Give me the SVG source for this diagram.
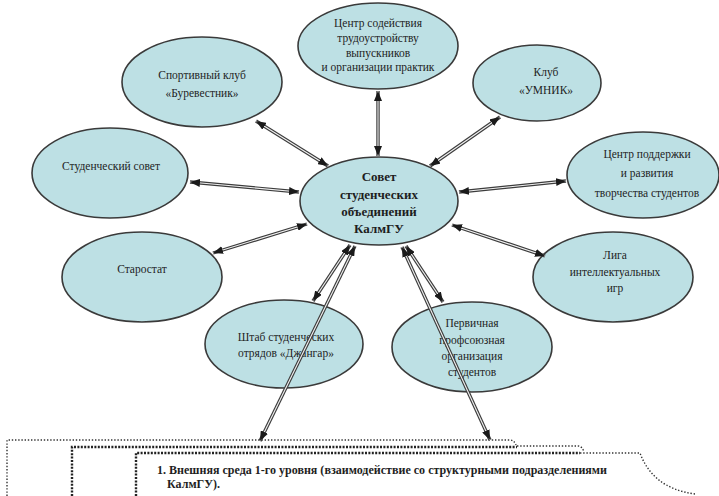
<svg xmlns="http://www.w3.org/2000/svg" xmlns:xlink="http://www.w3.org/1999/xlink" width="719" height="496" viewBox="0 0 719 496" font-family="Liberation Serif, DejaVu Serif, serif">
<style>
.node ellipse{fill:#bde0e4;stroke:#3a3a3a;stroke-width:1.6}
.t{font-size:11.5px;fill:#1e1e1e;text-anchor:middle}
.b{font-size:13px;font-weight:bold;fill:#1e1e1e;text-anchor:middle}
.bt{font-size:12px;font-weight:bold;fill:#1e1e1e}
.o{fill:none;stroke:#3c3c3c;stroke-width:3.4}
.i{fill:none;stroke:#f2f2f2;stroke-width:1.1}
.m{fill:none;stroke:none;marker-start:url(#ah);marker-end:url(#ah)}
.fine{fill:none;stroke:#333;stroke-width:1.4;stroke-dasharray:1.4 1.8}
.heavy{fill:none;stroke:#222;stroke-width:2.4;stroke-dasharray:2 1.4}
</style>
<defs>
<marker id="ah" viewBox="0 0 10 8" refX="10" refY="4" markerWidth="10" markerHeight="8" markerUnits="userSpaceOnUse" orient="auto-start-reverse">
<path d="M0,0 L10,4 L0,8 z" fill="#1a1a1a"/>
</marker>
<path id="c1" d="M378,91 L378,156"/>
<path id="c2" d="M256,121 L328,166"/>
<path id="c3" d="M500,117 L430,166"/>
<path id="c4" d="M190,182 L299,192"/>
<path id="c5" d="M566,181 L459,192"/>
<path id="c6" d="M213,253 L307,224"/>
<path id="c7" d="M545,256 L452,225"/>
<path id="c8" d="M313,301 L350,245"/>
<path id="c9" d="M443,302 L406,246"/>
<path id="c10" d="M355,246 L260,441"/>
<path id="c11" d="M402,247 L490,440"/>
</defs>
<rect width="719" height="496" fill="#ffffff"/>

<g id="lower-box">
<path class="fine" d="M7,496 V440 H510 Q514,440 516,445"/>
<path class="heavy" d="M72,496 V447 H517"/>
<path class="fine" d="M517,446 H578 Q582,446 584,452"/>
<path class="heavy" d="M136,496 V453 H580"/>
<path class="fine" d="M580,453 H640 C648,475 665,490 695,494"/>
<text class="bt" x="157" y="474" textLength="450" lengthAdjust="spacingAndGlyphs">1. Внешняя среда 1-го уровня (взаимодействие со структурными  подразделениями</text>
<text class="bt" x="167" y="488">КалмГУ).</text>
</g>

<g id="node-center" class="node">
<ellipse cx="379" cy="201" rx="79" ry="44"/>
<text class="b" x="379" y="181">Совет</text>
<text class="b" x="379" y="199">студенческих</text>
<text class="b" x="379" y="216">объединений</text>
<text class="b" x="379" y="233">КалмГУ</text>
</g>

<g id="node-career" class="node">
<ellipse cx="378" cy="46" rx="80" ry="43"/>
<text class="t" x="378" y="27">Центр содействия</text>
<text class="t" x="378" y="42">трудоустройству</text>
<text class="t" x="378" y="57">выпускников</text>
<text class="t" x="378" y="71">и организации практик</text>
</g>

<g id="node-sport" class="node">
<ellipse cx="202" cy="82" rx="80" ry="45"/>
<text class="t" x="202" y="79">Спортивный клуб</text>
<text class="t" x="202" y="97">«Буревестник»</text>
</g>

<g id="node-umnik" class="node">
<ellipse cx="537" cy="83" rx="64" ry="38"/>
<text class="t" x="546" y="76">Клуб</text>
<text class="t" x="546" y="94">«УМНИК»</text>
</g>

<g id="node-creativity" class="node">
<ellipse cx="643" cy="175" rx="76" ry="43"/>
<text class="t" x="647" y="158">Центр поддержки</text>
<text class="t" x="647" y="177">и развития</text>
<text class="t" x="647" y="197">творчества студентов</text>
</g>

<g id="node-council" class="node">
<ellipse cx="110" cy="173" rx="78" ry="45"/>
<text class="t" x="111" y="170">Студенческий  совет</text>
</g>

<g id="node-starostat" class="node">
<ellipse cx="142" cy="277" rx="80" ry="45"/>
<text class="t" x="142" y="273">Старостат</text>
</g>

<g id="node-league" class="node">
<ellipse cx="613" cy="277" rx="80" ry="45"/>
<text class="t" x="615" y="259">Лига</text>
<text class="t" x="615" y="276">интеллектуальных</text>
<text class="t" x="615" y="292">игр</text>
</g>

<g id="node-squads" class="node">
<ellipse cx="284" cy="344" rx="79" ry="44"/>
<text class="t" x="286" y="341">Штаб студенческих</text>
<text class="t" x="286" y="357">отрядов  «Джангар»</text>
</g>

<g id="node-union" class="node">
<ellipse cx="472" cy="347" rx="80" ry="45"/>
<text class="t" x="472" y="327">Первичная</text>
<text class="t" x="472" y="344">профсоюзная</text>
<text class="t" x="472" y="360">организация</text>
<text class="t" x="472" y="376">студентов</text>
</g>

<g id="connectors">
<use xlink:href="#c1" class="o"/><use xlink:href="#c1" class="i"/><use xlink:href="#c1" class="m"/>
<use xlink:href="#c2" class="o"/><use xlink:href="#c2" class="i"/><use xlink:href="#c2" class="m"/>
<use xlink:href="#c3" class="o"/><use xlink:href="#c3" class="i"/><use xlink:href="#c3" class="m"/>
<use xlink:href="#c4" class="o"/><use xlink:href="#c4" class="i"/><use xlink:href="#c4" class="m"/>
<use xlink:href="#c5" class="o"/><use xlink:href="#c5" class="i"/><use xlink:href="#c5" class="m"/>
<use xlink:href="#c6" class="o"/><use xlink:href="#c6" class="i"/><use xlink:href="#c6" class="m"/>
<use xlink:href="#c7" class="o"/><use xlink:href="#c7" class="i"/><use xlink:href="#c7" class="m"/>
<use xlink:href="#c8" class="o"/><use xlink:href="#c8" class="i"/><use xlink:href="#c8" class="m"/>
<use xlink:href="#c9" class="o"/><use xlink:href="#c9" class="i"/><use xlink:href="#c9" class="m"/>
<use xlink:href="#c10" class="o"/><use xlink:href="#c10" class="i"/><use xlink:href="#c10" class="m"/>
<use xlink:href="#c11" class="o"/><use xlink:href="#c11" class="i"/><use xlink:href="#c11" class="m"/>
</g>
</svg>
